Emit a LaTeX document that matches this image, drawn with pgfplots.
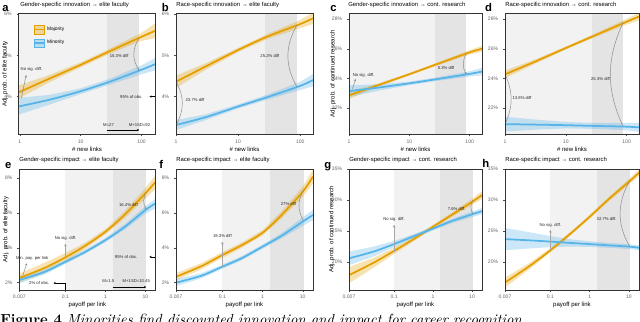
\documentclass[border=0pt]{standalone}
\usepackage{fontspec}
\setsansfont{Liberation Sans}
\usepackage{pgfplots}
\pgfplotsset{compat=1.18}
\usetikzlibrary{arrows.meta}

\definecolor{maj}{HTML}{E69F00}
\definecolor{mnr}{HTML}{56B4E9}
\definecolor{shadeA}{HTML}{F2F2F2}
\definecolor{shadeB}{HTML}{E4E4E4}

\newcommand\tickf{\sffamily\fontsize{3.6}{4}\selectfont}
\newcommand\labf{\sffamily\fontsize{4.3}{5}\selectfont}
\newcommand\titf{\sffamily\fontsize{4.2}{5}\selectfont}
\newcommand\annf{\sffamily\fontsize{3}{3.5}\selectfont}
\newcommand\legf{\sffamily\fontsize{3.5}{4}\selectfont}
\newcommand\letf{\sffamily\bfseries\fontsize{8}{9}\selectfont}

\pgfplotsset{
  panel/.style={
    scale only axis, enlargelimits=false, axis on top,
    clip mode=individual,
    axis line style={black!80, line width=0.55pt},
    tick pos=left, tick align=outside, major tick length=1.4pt,
    tick style={black!70, line width=0.35pt},
    xminorticks=false,
    ticklabel style={font=\tickf, text=black!60},
    xticklabel style={yshift=1.2pt},
    label style={font=\labf},
    xlabel style={yshift=4.5pt},
  },
  majl/.style={maj, line width=1.25pt, smooth, forget plot},
  minl/.style={mnr, line width=1.25pt, smooth, forget plot},
  majb/.style={fill=maj, fill opacity=0.3, draw=none, forget plot},
  minb/.style={fill=mnr, fill opacity=0.3, draw=none, forget plot},
}
\tikzset{
  annl/.style={black!45, line width=0.35pt},
  annv/.style={black!35, line width=0.6pt, -{Stealth[length=2pt,width=2pt]}},
  tip/.style={-{Stealth[length=1.6pt,width=1.6pt]}},
  blk/.style={black, line width=0.45pt},
  ann/.style={font=\annf, text=black!85, inner sep=0.5pt},
}
% shaded x range: colour, x1, x2, y1, y2
\newcommand{\xrange}[5]{%
  \addplot[fill=#1, draw=none, forget plot] coordinates {(#2,#4) (#3,#4) (#3,#5) (#2,#5)} -- cycle;
}

\begin{document}
\begin{tikzpicture}
\path[use as bounding box] (0,0) rectangle (16cm,-8.025cm);

% ---------------- a ----------------
\begin{axis}[panel, xmode=log, xmin=0.95, xmax=170, xtick={1,10,100}, xticklabels={1,10,100}, xlabel={\# new links},
  at={(0.4625cm,-3.3625cm)}, anchor=south west,
  width=3.425cm, height=3.03cm, ymin=3.08, ymax=6.02, ytick={4,5,6}, yticklabels={4\%,5\%,6\%},
  ylabel={Adj. prob. of elite faculty}, ylabel style={at={(axis description cs:-0.098,0.5)}, anchor=center},
  legend style={at={(0.11,0.905)}, anchor=north west, draw=none, fill=none, font=\legf,
    row sep=3.2pt, inner sep=0pt, nodes={inner sep=1.2pt}}, legend cell align=left]
\addlegendimage{legend image code/.code={\fill[maj, fill opacity=0.35] (0pt,-3pt) rectangle (7pt,3pt); \draw[maj, line width=1.2pt] (0pt,0pt) -- (7pt,0pt);}}
\addlegendentry{Majority}
\addlegendimage{legend image code/.code={\fill[mnr, fill opacity=0.35] (0pt,-3pt) rectangle (7pt,3pt); \draw[mnr, line width=1.2pt] (0pt,0pt) -- (7pt,0pt);}}
\addlegendentry{Minority}
\xrange{shadeA}{0.9}{27}{3}{7}
\xrange{shadeB}{27}{92}{3}{7}
\addplot[majb] coordinates {(0.95,4.27)(3,4.52)(10,4.83)(30,5.16)(100,5.55)(170,5.78)
  (170,5.42)(100,5.35)(30,5.04)(10,4.71)(3,4.34)(0.95,3.95)} -- cycle;
\addplot[minb] coordinates {(0.95,3.97)(3,4.04)(10,4.20)(30,4.43)(100,4.76)(170,4.94)
  (170,4.64)(100,4.54)(30,4.29)(10,4.06)(3,3.80)(0.95,3.56)} -- cycle;
\addplot[majl] coordinates {(0.95,4.10)(3,4.43)(10,4.77)(30,5.10)(100,5.45)(170,5.60)};
\addplot[minl] coordinates {(0.95,3.76)(3,3.92)(10,4.13)(30,4.36)(100,4.65)(170,4.79)};
\node[ann] at (axis cs:1.55,4.67) {No sig. diff.};
\draw[annl,tip] (axis cs:1.06,3.97) -- (axis cs:1.27,4.52);
\draw[annl,tip] (axis cs:92,5.42) to[bend right=35] (axis cs:92,4.64);
\node[ann] at (axis cs:43,4.99) {15.3\% diff};
\node[ann] at (axis cs:68,4.0) {95\% of obs.};
\draw[blk,tip] (axis cs:170,4.0) -- (axis cs:135,4.0);
\draw[blk] (axis cs:170,4.0) -- (axis cs:170,3.08);
\node[ann] at (axis cs:28.7,3.30) {M=27};
\node[ann] at (axis cs:92.6,3.30) {M+1SD=92};
\draw[blk,tip] (axis cs:27,3.19) -- (axis cs:92,3.19);
\end{axis}

% ---------------- b ----------------
\begin{axis}[panel, xmode=log, xmin=1, xmax=160, xtick={1,10,100}, xticklabels={1,10,100}, xlabel={\# new links},
  at={(4.4cm,-3.3625cm)}, anchor=south west,
  width=3.425cm, height=3.03cm, ymin=3.08, ymax=6.02, ytick={4,5,6}, yticklabels={4\%,5\%,6\%}]
\xrange{shadeA}{0.9}{27}{3}{7}
\xrange{shadeB}{27}{88}{3}{7}
\addplot[majb] coordinates {(1,4.51)(3,4.81)(10,5.18)(30,5.52)(100,5.86)(160,6.04)
  (160,5.76)(100,5.66)(30,5.40)(10,5.08)(3,4.65)(1,4.21)} -- cycle;
\addplot[minb] coordinates {(1,3.43)(3,3.57)(10,3.81)(30,4.05)(100,4.36)(160,4.55)
  (160,4.25)(100,4.16)(30,3.93)(10,3.71)(3,3.43)(1,3.19)} -- cycle;
\addplot[majl] coordinates {(1,4.36)(3,4.73)(10,5.13)(30,5.46)(100,5.76)(160,5.90)};
\addplot[minl] coordinates {(1,3.31)(3,3.50)(10,3.76)(30,3.99)(100,4.26)(160,4.40)};
\draw[annl] (axis cs:88,5.73) to[bend right=30] (axis cs:88,4.24);
\node[ann] at (axis cs:32.3,4.99) {25.2\% diff};
\draw[annl] (axis cs:1,4.36) to[bend left=30] (axis cs:1,3.31);
\node[ann] at (axis cs:2.02,3.92) {23.7\% diff};
\end{axis}

% ---------------- c ----------------
\begin{axis}[panel, xmode=log, xmin=1, xmax=160, xtick={1,10,100}, xticklabels={1,10,100}, xlabel={\# new links},
  at={(8.725cm,-3.3625cm)}, anchor=south west,
  width=3.325cm, height=3.03cm, ymin=20.2, ymax=28.4, ytick={22,24,26,28}, yticklabels={22\%,24\%,26\%,28\%},
  ylabel={Adj. prob. of continued research}, ylabel style={at={(axis description cs:-0.12,0.5)}, anchor=center}]
\xrange{shadeA}{0.9}{27}{19}{29}
\xrange{shadeB}{27}{88}{19}{29}
\addplot[majb] coordinates {(1,23.10)(3,23.65)(10,24.36)(30,25.09)(100,25.91)(160,26.20)
  (160,25.80)(100,25.61)(30,24.89)(10,24.20)(3,23.41)(1,22.60)} -- cycle;
\addplot[minb] coordinates {(1,23.54)(3,23.59)(10,23.78)(30,24.08)(100,24.48)(160,24.71)
  (160,24.21)(100,24.12)(30,23.84)(10,23.54)(3,23.15)(1,22.74)} -- cycle;
\addplot[majl] coordinates {(1,22.85)(3,23.53)(10,24.28)(30,24.99)(100,25.76)(160,26.0)};
\addplot[minl] coordinates {(1,23.14)(3,23.37)(10,23.66)(30,23.96)(100,24.30)(160,24.46)};
\node[ann] at (axis cs:1.74,24.23) {No sig. diff.};
\draw[annl,tip] (axis cs:1.14,23.3) -- (axis cs:1.29,23.95);
\draw[annl,tip] (axis cs:88,25.67) to[bend right=30] (axis cs:88,24.27);
\node[ann] at (axis cs:40.4,24.71) {5.3\% diff};
\end{axis}

% ---------------- d ----------------
\begin{axis}[panel, xmode=log, xmin=1, xmax=160, xtick={1,10,100}, xticklabels={1,10,100}, xlabel={\# new links},
  at={(12.625cm,-3.3625cm)}, anchor=south west,
  width=3.35cm, height=3.03cm, ymin=20.2, ymax=28.4, ytick={22,24,26,28}, yticklabels={22\%,24\%,26\%,28\%}]
\xrange{shadeA}{0.9}{27}{19}{29}
\xrange{shadeB}{27}{88}{19}{29}
\addplot[majb] coordinates {(1,24.52)(3,25.25)(10,26.15)(30,27.02)(100,28.03)(160,28.43)
  (160,27.93)(100,27.63)(30,26.78)(10,25.95)(3,24.95)(1,24.02)} -- cycle;
\addplot[minb] coordinates {(1,21.4)(3,21.22)(10,21.05)(30,20.98)(100,20.98)(160,20.98)
  (160,20.38)(100,20.48)(30,20.58)(10,20.61)(3,20.52)(1,20.4)} -- cycle;
\addplot[majl] coordinates {(1,24.27)(3,25.10)(10,26.05)(30,26.90)(100,27.83)(160,28.18)};
\addplot[minl] coordinates {(1,20.90)(3,20.87)(10,20.83)(30,20.78)(100,20.73)(160,20.68)};
\draw[annl] (axis cs:1,24.27) to[bend left=25] (axis cs:1,20.9);
\node[ann] at (axis cs:1.9,22.64) {13.8\% diff};
\draw[annl] (axis cs:88,27.79) to[bend right=25] (axis cs:88,20.73);
\node[ann] at (axis cs:37.2,23.95) {25.3\% diff};
\end{axis}

% ---------------- e ----------------
\begin{axis}[panel, xmode=log, xmin=0.007, xmax=18, xtick={0.007,0.1,1,10}, xticklabels={0.007,0.1,1,10}, xlabel={payoff per link},
  at={(0.4825cm,-7.25cm)}, anchor=south west,
  width=3.41cm, height=3.025cm, ymin=1.58, ymax=8.53, ytick={2,4,6,8}, yticklabels={2\%,4\%,6\%,8\%},
  ylabel={Adj. prob. of elite faculty}, ylabel style={at={(axis description cs:-0.098,0.5)}, anchor=center}]
\xrange{shadeA}{0.1}{1.5}{1}{9}
\xrange{shadeB}{1.5}{10.45}{1}{9}
\addplot[majb] coordinates {(0.007,2.52)(0.03,3.15)(0.1,3.71)(0.3,4.27)(1,5.08)(3,6.1)(10,7.44)(18,8.2)
  (18,7.4)(10,6.84)(3,5.7)(1,4.78)(0.3,3.93)(0.1,3.21)(0.03,2.55)(0.007,2.02)} -- cycle;
\addplot[minb] coordinates {(0.007,2.36)(0.03,2.77)(0.1,3.32)(0.3,3.87)(1,4.57)(3,5.35)(10,6.40)(18,6.84)
  (18,6.28)(10,5.96)(3,5.05)(1,4.33)(0.3,3.63)(0.1,3.08)(0.03,2.47)(0.007,1.96)} -- cycle;
\addplot[majl] coordinates {(0.007,2.27)(0.03,2.85)(0.1,3.46)(0.3,4.10)(1,4.93)(3,5.90)(10,7.14)(18,7.80)};
\addplot[minl] coordinates {(0.007,2.16)(0.03,2.62)(0.1,3.20)(0.3,3.75)(1,4.45)(3,5.20)(10,6.18)(18,6.56)};
\node[ann] at (axis cs:0.0147,3.42) {Min. pay. per link};
\draw[annl,tip] (axis cs:0.0085,2.39) -- (axis cs:0.0108,3.11);
\node[ann] at (axis cs:0.1,4.57) {No sig. diff.};
\draw[annv] (axis cs:0.1,3.46) -- (axis cs:0.1,4.25);
\draw[annl,tip] (axis cs:10.45,7.2) to[bend right=30] (axis cs:10.45,6.22);
\node[ann] at (axis cs:3.74,6.47) {16.4\% diff};
\node[ann] at (axis cs:3.28,3.48) {95\% of obs.};
\draw[blk,tip] (axis cs:18,3.48) -- (axis cs:12.5,3.48);
\draw[blk] (axis cs:18,3.48) -- (axis cs:18,1.58);
\node[ann] at (axis cs:0.022,1.98) {2\% of obs.};
\draw[blk,tip] (axis cs:0.1,1.98) -- (axis cs:0.05,1.98);
\draw[blk] (axis cs:0.1,1.98) -- (axis cs:0.1,1.58);
\node[ann] at (axis cs:1.17,2.1) {M=1.5};
\node[ann] at (axis cs:5.9,2.1) {M+1SD=10.45};
\draw[blk,tip] (axis cs:1.5,1.75) -- (axis cs:10.45,1.75);
\end{axis}

% ---------------- f ----------------
\begin{axis}[panel, xmode=log, xmin=0.007, xmax=18, xtick={0.007,0.1,1,10}, xticklabels={0.007,0.1,1,10}, xlabel={payoff per link},
  at={(4.4cm,-7.25cm)}, anchor=south west,
  width=3.425cm, height=3.025cm, ymin=1.58, ymax=8.53, ytick={2,4,6,8}, yticklabels={2\%,4\%,6\%,8\%}]
\xrange{shadeA}{0.1}{1.5}{1}{9}
\xrange{shadeB}{1.5}{10.45}{1}{9}
\addplot[majb] coordinates {(0.007,2.54)(0.03,3.13)(0.1,3.76)(0.3,4.30)(1,5.02)(3,6.1)(10,7.53)(18,8.5)
  (18,7.7)(10,6.93)(3,5.7)(1,4.72)(0.3,4.0)(0.1,3.42)(0.03,2.77)(0.007,2.14)} -- cycle;
\addplot[minb] coordinates {(0.007,2.2)(0.03,2.55)(0.1,3.04)(0.3,3.52)(1,4.19)(3,4.85)(10,5.76)(18,6.19)
  (18,5.59)(10,5.26)(3,4.55)(1,3.95)(0.3,3.28)(0.1,2.80)(0.03,2.25)(0.007,1.8)} -- cycle;
\addplot[majl] coordinates {(0.007,2.34)(0.03,2.95)(0.1,3.59)(0.3,4.15)(1,4.87)(3,5.90)(10,7.23)(18,8.10)};
\addplot[minl] coordinates {(0.007,2.00)(0.03,2.40)(0.1,2.92)(0.3,3.40)(1,4.07)(3,4.70)(10,5.51)(18,5.89)};
\node[ann] at (axis cs:0.1,4.68) {19.3\% diff};
\draw[annv] (axis cs:0.1,2.92) -- (axis cs:0.1,4.36);
\draw[annl] (axis cs:10.45,7.33) to[bend right=30] (axis cs:10.45,5.55);
\node[ann] at (axis cs:4.4,6.52) {27\% diff};
\end{axis}

% ---------------- g ----------------
\begin{axis}[panel, xmode=log, xmin=0.007, xmax=18, xtick={0.007,0.1,1,10}, xticklabels={0.007,0.1,1,10}, xlabel={payoff per link},
  at={(8.725cm,-7.25cm)}, anchor=south west,
  width=3.325cm, height=3.025cm, ymin=15.5, ymax=35, ytick={20,25,30,35}, yticklabels={20\%,25\%,30\%,35\%},
  ylabel={Adj. prob. of continued research}, ylabel style={at={(axis description cs:-0.13,0.5)}, anchor=center}]
\xrange{shadeA}{0.1}{1.5}{10}{40}
\xrange{shadeB}{1.5}{10.45}{10}{40}
\addplot[majb] coordinates {(0.007,19.2)(0.03,20.7)(0.1,22.3)(0.3,23.95)(1,26.0)(3,27.95)(10,30.2)(18,31.4)
  (18,30.2)(10,29.2)(3,27.25)(1,25.4)(0.3,23.25)(0.1,21.3)(0.03,19.1)(0.007,16.6)} -- cycle;
\addplot[minb] coordinates {(0.007,21.7)(0.03,22.5)(0.1,23.4)(0.3,24.45)(1,25.7)(3,26.95)(10,28.15)(18,28.7)
  (18,27.7)(10,27.25)(3,26.25)(1,25.1)(0.3,23.75)(0.1,22.4)(0.03,20.9)(0.007,19.5)} -- cycle;
\addplot[majl] coordinates {(0.007,17.9)(0.03,19.9)(0.1,21.8)(0.3,23.6)(1,25.7)(3,27.6)(10,29.7)(18,30.8)};
\addplot[minl] coordinates {(0.007,20.6)(0.03,21.7)(0.1,22.9)(0.3,24.1)(1,25.4)(3,26.6)(10,27.7)(18,28.2)};
\node[ann] at (axis cs:0.1,26.9) {No sig. diff.};
\draw[annv] (axis cs:0.1,21.7) -- (axis cs:0.1,26.0);
\draw[annl] (axis cs:10.45,29.95) to[bend right=30] (axis cs:10.45,27.8);
\node[ann] at (axis cs:4.0,28.5) {7.6\% diff.};
\end{axis}

% ---------------- h ----------------
\begin{axis}[panel, xmode=log, xmin=0.007, xmax=18, xtick={0.007,0.1,1,10}, xticklabels={0.007,0.1,1,10}, xlabel={payoff per link},
  at={(12.625cm,-7.25cm)}, anchor=south west,
  width=3.35cm, height=3.025cm, ymin=15.5, ymax=35, ytick={20,25,30,35}, yticklabels={20\%,25\%,30\%,35\%}]
\xrange{shadeA}{0.1}{1.5}{10}{40}
\xrange{shadeB}{1.5}{10.45}{10}{40}
\addplot[majb] coordinates {(0.007,17.5)(0.03,19.9)(0.1,22.25)(0.3,24.7)(1,27.6)(3,30.45)(10,33.4)(18,34.9)
  (18,33.9)(10,32.5)(3,29.75)(1,27.0)(0.3,24.1)(0.1,21.55)(0.03,18.9)(0.007,15.9)} -- cycle;
\addplot[minb] coordinates {(0.007,25.5)(0.03,24.8)(0.1,24.2)(0.3,23.7)(1,23.35)(3,23.1)(10,22.9)(18,22.7)
  (18,21.9)(10,22.1)(3,22.3)(1,22.45)(0.3,22.5)(0.1,22.4)(0.03,22.2)(0.007,21.9)} -- cycle;
\addplot[majl] coordinates {(0.007,16.7)(0.03,19.4)(0.1,21.9)(0.3,24.4)(1,27.3)(3,30.1)(10,32.95)(18,34.4)};
\addplot[minl] coordinates {(0.007,23.7)(0.03,23.5)(0.1,23.3)(0.3,23.1)(1,22.9)(3,22.7)(10,22.5)(18,22.3)};
\node[ann] at (axis cs:0.1,25.97) {No sig. diff.};
\draw[annv] (axis cs:0.1,21.9) -- (axis cs:0.1,25.2);
\draw[annl] (axis cs:10.45,33.1) to[bend right=30] (axis cs:10.45,22.5);
\node[ann] at (axis cs:2.7,26.9) {32.7\% diff.};
\end{axis}

% ---------------- titles and panel letters ----------------
\node[anchor=base west, inner sep=0pt, font=\titf] at (0.5cm,-0.165cm) {Gender-specific innovation → elite faculty};
\node[anchor=base west, inner sep=0pt, font=\titf] at (4.4cm,-0.165cm) {Race-specific innovation → elite faculty};
\node[anchor=base west, inner sep=0pt, font=\titf] at (8.7cm,-0.165cm) {Gender-specific innovation → cont. research};
\node[anchor=base west, inner sep=0pt, font=\titf] at (12.625cm,-0.165cm) {Race-specific innovation → cont. research};
\node[anchor=base west, inner sep=0pt, font=\titf] at (0.48cm,-4.04cm) {Gender-specific impact → elite faculty};
\node[anchor=base west, inner sep=0pt, font=\titf] at (4.4cm,-4.04cm) {Race-specific impact → elite faculty};
\node[anchor=base west, inner sep=0pt, font=\titf] at (8.725cm,-4.04cm) {Gender-specific impact → cont. research};
\node[anchor=base west, inner sep=0pt, font=\titf] at (12.625cm,-4.04cm) {Race-specific impact → cont. research};

\node[anchor=base west, inner sep=0pt, font=\letf] at (0.05cm,-0.29cm) {a};
\node[anchor=base west, inner sep=0pt, font=\letf] at (4.04cm,-0.29cm) {b};
\node[anchor=base west, inner sep=0pt, font=\letf] at (8.25cm,-0.29cm) {c};
\node[anchor=base west, inner sep=0pt, font=\letf] at (12.12cm,-0.29cm) {d};
\node[anchor=base west, inner sep=0pt, font=\letf] at (0.12cm,-4.2cm) {e};
\node[anchor=base west, inner sep=0pt, font=\letf] at (3.98cm,-4.2cm) {f};
\node[anchor=base west, inner sep=0pt, font=\letf] at (8.1cm,-4.2cm) {g};
\node[anchor=base west, inner sep=0pt, font=\letf] at (12.05cm,-4.18cm) {h};

% caption (cut by the page edge, as in the reference)
\node[anchor=base west, inner sep=0pt, font=\fontsize{10.4}{12}\selectfont] at (0,-8.11cm)
  {\textbf{Figure 4} \textit{Minorities find discounted innovation and impact for career recognition}};
\end{tikzpicture}
\end{document}
